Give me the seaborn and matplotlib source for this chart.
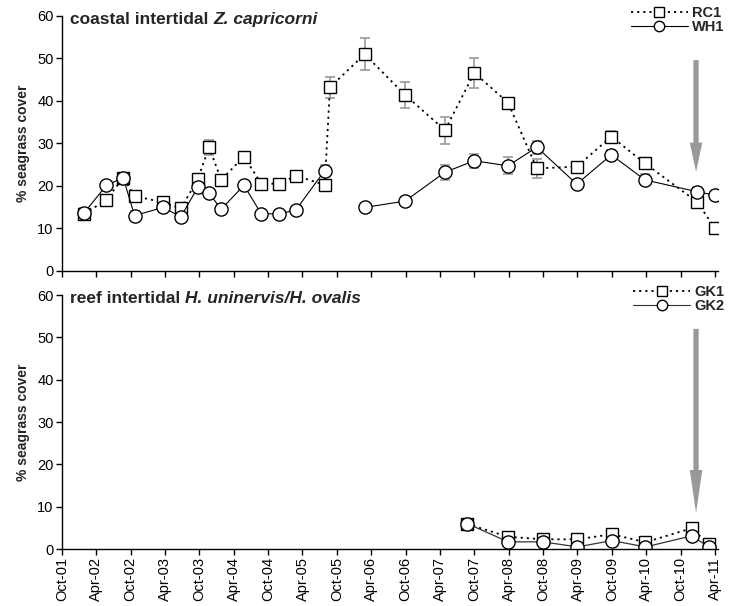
import numpy as np
import pandas as pd
import matplotlib
matplotlib.use("Agg")
import matplotlib.pyplot as plt
import seaborn as sns
from matplotlib.lines import Line2D

nan = np.nan

# ---------------- data ----------------
top_dates = ['2002-01-28', '2002-05-25', '2002-08-22', '2002-10-22', '2003-03-22',
             '2003-06-25', '2003-09-22', '2003-11-22', '2004-01-25', '2004-05-25',
             '2004-08-25', '2004-11-28', '2005-02-25', '2005-07-28', '2005-08-25',
             '2006-02-25', '2006-09-28', '2007-04-28', '2007-10-01', '2008-03-28',
             '2008-08-28', '2009-03-28', '2009-09-28', '2010-03-25', '2010-12-28',
             '2011-04-01']
rc1 = [13.4, 16.7, 21.9, 17.6, 16.1, 14.7, 21.5, 29.1, 21.4, 26.9, 20.5, 20.5, 22.4,
       20.2, 43.2, 51.0, 41.4, 33.1, 46.6, 39.6, 24.1, 24.5, 31.6, 25.3, 16.2, 10.0]
rc1_se = [1.0, 0.8, 0.8, 1.0, 0.8, 0.8, 1.0, 1.8, 1.0, 0.8, 0.8, 0.8, 0.8,
          1.2, 2.4, 3.8, 3.1, 3.2, 3.5, 1.0, 2.2, 0.8, 1.2, 1.2, 1.5, 0.6]
wh1 = [13.7, 20.1, 21.9, 13.0, 14.9, 12.7, 19.6, 18.2, 14.5, 20.1, 13.4, 13.4, 14.3,
       23.6, nan, 14.9, 16.4, 23.2, 25.9, 24.7, 29.1, 20.4, 27.3, 21.4, 18.6, 17.8]
wh1_se = [1.0, 0.8, 0.8, 1.0, 0.8, 0.8, 0.8, 0.8, 0.8, 0.8, 0.6, 0.6, 0.6,
          1.3, nan, 0.8, 1.0, 1.8, 1.7, 2.0, 1.5, 0.8, 1.2, 1.3, 1.0, 1.0]

bot_dates = ['2007-08-25', '2008-03-28', '2008-09-28', '2009-04-01', '2009-10-01',
             '2010-03-28', '2010-11-28', '2011-03-01']
gk1 = [5.9, 2.9, 2.3, 2.3, 3.5, 1.6, 4.9, 1.1]
gk1_se = [0.8, 0.8, 0.8, 0.8, 0.8, 0.6, 0.8, 0.5]
gk2 = [6.0, 1.7, 1.7, 0.5, 2.0, 0.5, 3.1, 0.5]
gk2_se = [0.8, 0.8, 0.8, 0.4, 0.6, 0.4, 0.6, 0.3]

tick_labels = ['Oct-01', 'Apr-02', 'Oct-02', 'Apr-03', 'Oct-03', 'Apr-04', 'Oct-04',
               'Apr-05', 'Oct-05', 'Apr-06', 'Oct-06', 'Apr-07', 'Oct-07', 'Apr-08',
               'Oct-08', 'Apr-09', 'Oct-09', 'Apr-10', 'Oct-10', 'Apr-11']
event_date = '2010-12-22'

# ---------------- style ----------------
sns.set_style("ticks")
plt.rcParams['font.family'] = ['Liberation Sans', 'DejaVu Sans']
plt.rcParams['axes.linewidth'] = 1.0

fig = plt.figure(figsize=(7.29, 6.06), dpi=100)
ax1 = fig.add_axes([0.085, 0.5533, 0.90, 0.4203])
ax2 = fig.add_axes([0.085, 0.094, 0.90, 0.4192])

ticks = pd.date_range('2001-10-01', periods=len(tick_labels), freq='6MS')
xmin, xmax = pd.Timestamp('2001-10-01'), pd.Timestamp('2011-04-18')

DOT = (0, (1.2, 2.2))
ERRC = '#9a9a9a'


def draw(ax, dates, vals, se, marker, ls, lw, lcolor):
    df = pd.DataFrame({'date': pd.to_datetime(dates), 'val': vals, 'se': se})
    df['seg'] = df['val'].isna().cumsum()
    df = df.dropna()
    ax.errorbar(df['date'], df['val'], yerr=df['se'], fmt='none', ecolor=ERRC,
                elinewidth=1.2, capsize=3.5, capthick=1.2, zorder=1)
    sns.lineplot(data=df, x='date', y='val', units='seg', estimator=None, ax=ax,
                 color=lcolor, linestyle=ls, linewidth=lw, marker=marker,
                 markersize=9 if marker == 's' else 9.5, markerfacecolor='white',
                 markeredgecolor='black', markeredgewidth=1.0, legend=False)


draw(ax1, top_dates, rc1, rc1_se, 's', DOT, 1.3, 'black')
draw(ax1, top_dates, wh1, wh1_se, 'o', '-', 0.8, 'black')
draw(ax2, bot_dates, gk1, gk1_se, 's', DOT, 1.3, 'black')
draw(ax2, bot_dates, gk2, gk2_se, 'o', '-', 0.9, '#333333')

titles = [('coastal intertidal', 'Z. capricorni'),
          ('reef intertidal', 'H. uninervis/H. ovalis')]
legends = [('RC1', 'WH1'), ('GK1', 'GK2')]
arrows = [(49.6, 23.3, 21), (52.0, 8.5, 31)]

for i, ax in enumerate([ax1, ax2]):
    ax.set_xlim(xmin, xmax)
    ax.set_ylim(0, 60)
    ax.set_yticks([0, 10, 20, 30, 40, 50, 60])
    ax.set_xticks(ticks)
    ax.tick_params(axis='both', direction='out', length=4, width=1, labelsize=10.5,
                   colors='black', pad=2)
    ax.set_xlabel('')
    ax.set_ylabel('% seagrass cover', fontsize=10, fontweight='bold', labelpad=5)
    sns.despine(ax=ax)
    ax.spines['left'].set_color('black')
    ax.spines['bottom'].set_color('black')
    # title
    t1 = ax.text(0.012, 0.985, titles[i][0], transform=ax.transAxes, fontsize=12.5,
                 fontweight='bold', va='center', ha='left')
    ax.annotate(titles[i][1], xy=(1, 0), xycoords=t1, xytext=(3.8, 0),
                textcoords='offset points', fontsize=12.5, fontweight='bold',
                fontstyle='italic', va='bottom', ha='left')
    # arrow
    y0, y1, hl = arrows[i]
    ax.annotate('', xy=(pd.Timestamp(event_date), y1),
                xytext=(pd.Timestamp(event_date), y0),
                arrowprops=dict(arrowstyle=f'simple,head_length={hl},head_width=9,tail_width=3.8',
                                color='#999999', mutation_scale=1, shrinkA=0, shrinkB=0,
                                lw=0))
    # legend
    handles = [Line2D([], [], color='black', linestyle=DOT, linewidth=1.3, marker='s',
                      markersize=7, markerfacecolor='white', markeredgecolor='black',
                      markeredgewidth=1.0),
               Line2D([], [], color='black' if i == 0 else '#333333', linestyle='-',
                      linewidth=0.8, marker='o', markersize=7.5, markerfacecolor='white',
                      markeredgecolor='black', markeredgewidth=1.0)]
    top_y = 0.990 if i == 0 else 0.530
    leg = ax.legend(handles, legends[i], loc='upper right', frameon=False,
                    bbox_to_anchor=(0.994, top_y), bbox_transform=fig.transFigure,
                    prop={'weight': 'bold', 'size': 10.5}, handlelength=3.9,
                    handletextpad=0.3, borderpad=0, labelspacing=0.0,
                    borderaxespad=0)

ax1.set_xticklabels([])
ax2.set_xticklabels(tick_labels, rotation=90)

fig.savefig('out.png', dpi=100)
